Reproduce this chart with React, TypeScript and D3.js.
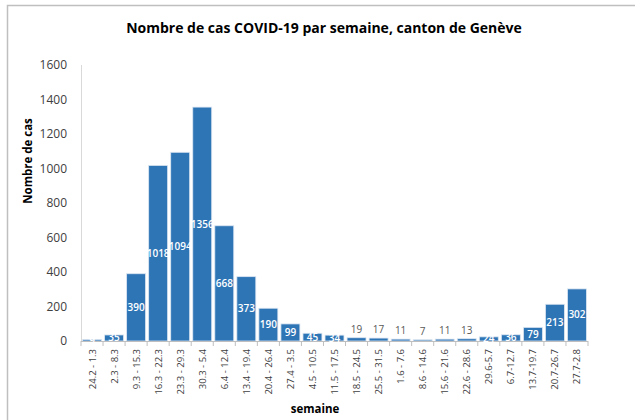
import React from "react";
import * as d3 from "d3";

const weeks = ["24.2 - 1.3","2.3 - 8.3","9.3 - 15.3","16.3 - 22.3","23.3 - 29.3","30.3 - 5.4","6.4 - 12.4","13.4 - 19.4","20.4 - 26.4","27.4 - 3.5","4.5 - 10.5","11.5 - 17.5","18.5 - 24.5","25.5 - 31.5","1.6 - 7.6","8.6 - 14.6","15.6 - 21.6","22.6 - 28.6","29.6-5.7","6.7-12.7","13.7-19.7","20.7-26.7","27.7-2.8"];
const cases = [9,35,390,1018,1094,1356,668,373,190,99,45,34,19,17,11,7,11,13,24,36,79,213,302];
const yTicks = [0,200,400,600,800,1000,1200,1400,1600];

const W = 635, H = 420;
const FONT = "'Open Sans', 'Liberation Sans', sans-serif";

export default function App() {
  const x = d3.scaleBand<string>().domain(weeks).range([81, 588]).paddingInner(0.14).paddingOuter(0.07);
  const y = d3.scaleLinear().domain([0, 1600]).range([341, 65]);
  const step = x.step();
  return (
    <svg width={W} height={H} style={{ position: "absolute", left: 0, top: 0 }} fontFamily={FONT}>
      <rect x={0} y={0} width={W} height={H} fill="#fff" />
      <path d={`M7.5,${H} V5.5 H${W}`} fill="none" stroke="#bfbfbf" strokeWidth={1.5} />
      <text x={324} y={33} textAnchor="middle" fontSize={14} fontWeight="bold" fill="#000">
        Nombre de cas COVID-19 par semaine, canton de Genève
      </text>
      {yTicks.map(t => (
        <text key={t} x={67} y={y(t) + 4} textAnchor="end" fontSize={12} fill="#404040">{t}</text>
      ))}
      <line x1={81.5} x2={81.5} y1={65} y2={341} stroke="#d9d9d9" />
      <text transform={`translate(32,161) rotate(-90)`} textAnchor="middle" fontSize={11.5} fontWeight="bold" fill="#000">Nombre de cas</text>
      {weeks.map((w, i) => (
        <rect key={w} x={x(w)} y={y(cases[i])} width={x.bandwidth()} height={y(0) - y(cases[i])}
          fill="#2e75b6" stroke="#dce6f2" strokeWidth={0.8} />
      ))}
      <line x1={81} x2={588} y1={341.5} y2={341.5} stroke="#bfbfbf" />
      {d3.range(weeks.length + 1).map(i => {
        const xx = 81 + i * step;
        return <line key={i} x1={xx} x2={xx} y1={341} y2={346} stroke="#bfbfbf" />;
      })}
      {weeks.map((w, i) => {
        const cx = (x(w) as number) + x.bandwidth() / 2;
        const v = cases[i];
        const inside = v >= 24 || i === 0;
        const ty = inside ? (y(v) + y(0)) / 2 + 3.5 : y(v) - 5;
        return (
          <text key={"l" + w} x={cx} y={ty} textAnchor="middle" fontSize={10}
            fontWeight={inside ? 600 : "normal"} fill={inside ? "#fff" : "#595959"}>{v}</text>
        );
      })}
      {weeks.map(w => {
        const cx = (x(w) as number) + x.bandwidth() / 2;
        return (
          <text key={"x" + w} transform={`translate(${cx + 3.5},349) rotate(-90)`} textAnchor="end"
            fontSize={9.5} fill="#404040">{w}</text>
        );
      })}
      <text x={315} y={413} textAnchor="middle" fontSize={11.5} fontWeight="bold" fill="#000">semaine</text>
    </svg>
  );
}
